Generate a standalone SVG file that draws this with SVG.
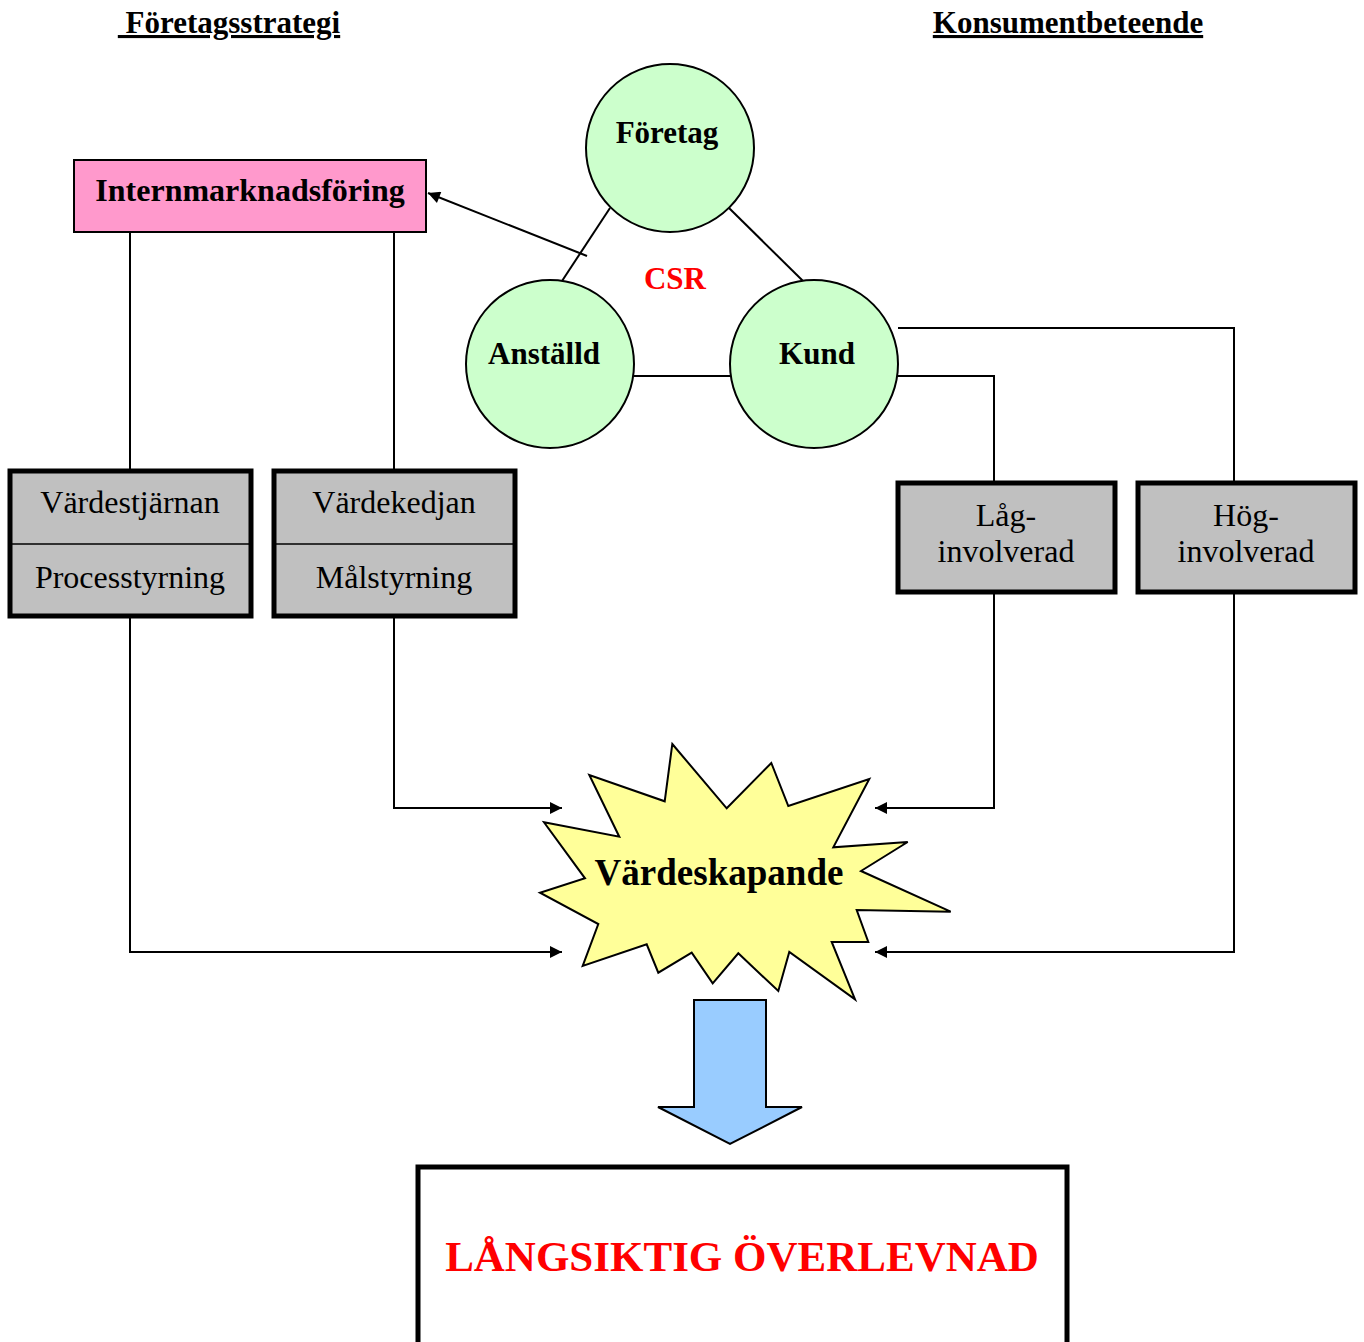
<svg xmlns="http://www.w3.org/2000/svg" width="1364" height="1342" viewBox="0 0 1364 1342">
<defs>
<marker id="ah" viewBox="0 0 10 10" refX="10" refY="5" markerWidth="16" markerHeight="12" markerUnits="userSpaceOnUse" orient="auto">
<path d="M0,0 L10,5 L0,10 z" fill="#000"/>
</marker>
</defs>
<style>
text{font-family:"Liberation Serif","Times New Roman",serif;text-anchor:middle;fill:#000}
.b{font-weight:bold}
.circ{fill:#CCFFCC;stroke:#000;stroke-width:2}
.gbox{fill:#C0C0C0;stroke:#000;stroke-width:5}
.ln{fill:none;stroke:#000;stroke-width:2}
.red{fill:#FF0000}
</style>
<rect width="1364" height="1342" fill="#fff"/>
<text x="229" y="33" class="b" font-size="31" text-decoration="underline">&#160;Företagsstrategi</text>
<text x="1068" y="33" class="b" font-size="31" text-decoration="underline">Konsumentbeteende</text>

<g id="connectors">
<line class="ln" x1="610" y1="208" x2="562" y2="281"/>
<line class="ln" x1="729" y1="208" x2="803" y2="281"/>
<line class="ln" x1="634" y1="376" x2="731" y2="376"/>
<line class="ln" x1="587" y1="256" x2="428" y2="193" marker-end="url(#ah)"/>
<line class="ln" x1="130" y1="232" x2="130" y2="471"/>
<line class="ln" x1="394" y1="232" x2="394" y2="471"/>
<polyline class="ln" points="130,616 130,952 562,952" marker-end="url(#ah)"/>
<polyline class="ln" points="394,616 394,808 562,808" marker-end="url(#ah)"/>
<polyline class="ln" points="898,376 994,376 994,483"/>
<polyline class="ln" points="898,328 1234,328 1234,483"/>
<polyline class="ln" points="994,592 994,808 875,808" marker-end="url(#ah)"/>
<polyline class="ln" points="1234,592 1234,952 875,952" marker-end="url(#ah)"/>
</g>

<g id="internmarknadsforing">
<rect x="74" y="160" width="352" height="72" fill="#FF99CC" stroke="#000" stroke-width="2"/>
<text x="250" y="201" class="b" font-size="32">Internmarknadsföring</text>
</g>

<g id="foretag">
<circle class="circ" cx="670" cy="148" r="84"/>
<text x="667" y="143" class="b" font-size="31">Företag</text>
</g>
<g id="anstalld">
<circle class="circ" cx="550" cy="364" r="84"/>
<text x="544" y="364" class="b" font-size="31">Anställd</text>
</g>
<g id="kund">
<circle class="circ" cx="814" cy="364" r="84"/>
<text x="817" y="364" class="b" font-size="31">Kund</text>
</g>
<g id="csr">
<text x="675" y="289" class="b red" font-size="31">CSR</text>
</g>

<g id="vardestjarnan">
<rect class="gbox" x="10" y="471" width="241" height="145"/>
<line x1="12" y1="544" x2="249" y2="544" stroke="#000" stroke-width="1.5"/>
<text x="130" y="513" font-size="32">Värdestjärnan</text>
<text x="130" y="588" font-size="32">Processtyrning</text>
</g>
<g id="vardekedjan">
<rect class="gbox" x="274" y="471" width="241" height="145"/>
<line x1="276" y1="544" x2="513" y2="544" stroke="#000" stroke-width="1.5"/>
<text x="394" y="513" font-size="32">Värdekedjan</text>
<text x="394" y="588" font-size="32">Målstyrning</text>
</g>

<g id="lag">
<rect class="gbox" x="898" y="483" width="217" height="109"/>
<text x="1006" y="526" font-size="32">Låg-</text>
<text x="1006" y="562" font-size="32">involverad</text>
</g>
<g id="hog">
<rect class="gbox" x="1138" y="483" width="217" height="109"/>
<text x="1246" y="526" font-size="32">Hög-</text>
<text x="1246" y="562" font-size="32">involverad</text>
</g>

<g id="vardeskapande">
<polygon points="672.3,744 726.7,808.3 771.3,763 788.3,806 869.3,779 833.3,847.3 907.7,842 861,871 950.7,911.7 856.7,910 868.3,942 831.7,942 855,999.3 789.3,952 778.3,991 738.3,953.3 712.7,983.3 691.7,952.7 658.3,972.7 646.7,944.3 582.7,966 598.3,924 540,892.7 585,878.3 544,822.3 619.3,836.7 589.3,775 664.7,801.3" fill="#FFFF99" stroke="#000" stroke-width="2"/>
<text x="719" y="885" class="b" font-size="37">Värdeskapande</text>
</g>

<g id="blockarrow">
<polygon points="694,1000 766,1000 766,1107 802,1107 730,1144 658,1107 694,1107" fill="#99CCFF" stroke="#000" stroke-width="2"/>
</g>

<g id="overlevnad">
<rect x="418" y="1167" width="649" height="200" fill="#fff" stroke="#000" stroke-width="5"/>
<text x="742" y="1271" class="b red" font-size="43">LÅNGSIKTIG ÖVERLEVNAD</text>
</g>
</svg>
